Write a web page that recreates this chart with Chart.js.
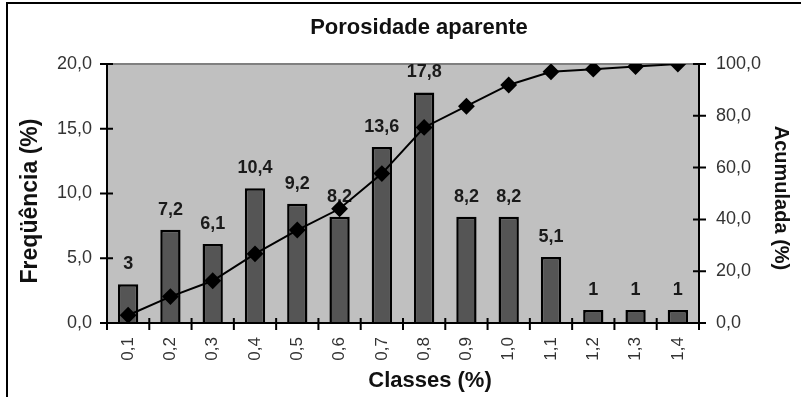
<!DOCTYPE html>
<html>
<head>
<meta charset="utf-8">
<script src="https://cdn.jsdelivr.net/npm/chart.js@4/dist/chart.umd.min.js"></script>
<style>
  html, body { margin: 0; padding: 0; background: #fff; }
  #c { display: block; }
</style>
</head>
<body>
<canvas id="c" width="801" height="397"></canvas>
<script>
// Porosity classes and their frequency / cumulative percentages
const classes = ['0,1', '0,2', '0,3', '0,4', '0,5', '0,6', '0,7', '0,8', '0,9', '1,0', '1,1', '1,2', '1,3', '1,4'];
const frequency = [3, 7.2, 6.1, 10.4, 9.2, 8.2, 13.6, 17.8, 8.2, 8.2, 5.1, 1, 1, 1];
const cumulative = [3, 10.2, 16.3, 26.7, 35.9, 44.1, 57.7, 75.5, 83.7, 91.9, 97, 98, 99, 100];
const freqTicks = [0, 5, 10, 15, 20];
const cumTicks = [0, 20, 40, 60, 80, 100];

const FONT = '"Liberation Sans", Arial, sans-serif';
const fmt1 = v => v.toFixed(1).replace('.', ',');
const fmtLabel = v => Number.isInteger(v) ? String(v) : fmt1(v);

const decorations = {
  id: 'decorations',
  beforeDraw(chart) {
    const { ctx, chartArea: a } = chart;
    ctx.save();
    ctx.fillStyle = '#fff';
    ctx.fillRect(0, 0, chart.width, chart.height);
    // outer frame (top and left edges)
    ctx.strokeStyle = '#000';
    ctx.lineWidth = 2;
    ctx.beginPath();
    ctx.moveTo(801, 3);
    ctx.lineTo(7, 3);
    ctx.lineTo(7, 397);
    ctx.stroke();
    // plot area
    ctx.fillStyle = '#c0c0c0';
    ctx.fillRect(a.left, a.top, a.right - a.left, a.bottom - a.top);
    ctx.strokeStyle = '#808080';
    ctx.lineWidth = 2;
    ctx.beginPath();
    ctx.moveTo(a.left, a.top);
    ctx.lineTo(a.right, a.top);
    ctx.stroke();
    ctx.restore();
  },
  afterDatasetDraw(chart, args) {
    if (args.index !== 0) return;
    const { ctx } = chart;
    const meta = chart.getDatasetMeta(0);
    ctx.save();
    ctx.fillStyle = '#1a1a1a';
    ctx.font = 'bold 18px ' + FONT;
    ctx.textAlign = 'center';
    ctx.textBaseline = 'middle';
    meta.data.forEach((bar, i) => {
      ctx.fillText(fmtLabel(frequency[i]), bar.x, bar.y - 20);
    });
    ctx.restore();
  },
  afterDraw(chart) {
    const { ctx, chartArea: a, scales } = chart;
    ctx.save();
    ctx.strokeStyle = '#000';
    ctx.lineWidth = 2;
    // axis lines
    ctx.beginPath();
    ctx.moveTo(a.left, a.top);
    ctx.lineTo(a.left, a.bottom);
    ctx.moveTo(a.right, a.top);
    ctx.lineTo(a.right, a.bottom);
    ctx.moveTo(a.left - 7, a.bottom);
    ctx.lineTo(a.right + 7, a.bottom);
    ctx.stroke();
    // cross tick marks
    ctx.beginPath();
    freqTicks.forEach(v => {
      const y = scales.y.getPixelForValue(v);
      ctx.moveTo(a.left - 7, y);
      ctx.lineTo(a.left + 6, y);
    });
    cumTicks.forEach(v => {
      const y = scales.y1.getPixelForValue(v);
      ctx.moveTo(a.right - 6, y);
      ctx.lineTo(a.right + 7, y);
    });
    const step = (a.right - a.left) / classes.length;
    for (let i = 0; i <= classes.length; i++) {
      const x = a.left + i * step;
      ctx.moveTo(x, a.bottom - 5);
      ctx.lineTo(x, a.bottom + 7);
    }
    ctx.stroke();

    // titles
    ctx.fillStyle = '#111';
    ctx.textAlign = 'center';
    ctx.textBaseline = 'middle';
    ctx.font = 'bold 22px ' + FONT;
    ctx.fillText('Porosidade aparente', 419, 28);
    ctx.fillText('Classes (%)', 430, 381);
    ctx.save();
    ctx.font = 'bold 23px ' + FONT;
    ctx.translate(31, 201);
    ctx.rotate(-Math.PI / 2);
    ctx.fillText('Freqüência (%)', 0, 0);
    ctx.restore();
    ctx.save();
    ctx.font = 'bold 20px ' + FONT;
    ctx.translate(781, 198);
    ctx.rotate(Math.PI / 2);
    ctx.fillText('Acumulada (%)', 0, 0);
    ctx.restore();
    ctx.restore();
  }
};

new Chart(document.getElementById('c'), {
  type: 'bar',
  data: {
    labels: classes,
    datasets: [
      {
        type: 'bar',
        data: frequency,
        yAxisID: 'y',
        backgroundColor: '#555555',
        borderColor: '#000',
        borderWidth: 2.5,
        barPercentage: 0.48,
        categoryPercentage: 1,
        order: 2
      },
      {
        type: 'line',
        data: cumulative,
        yAxisID: 'y1',
        borderColor: '#000',
        borderWidth: 2,
        pointStyle: 'rectRot',
        pointRadius: 7,
        pointBackgroundColor: '#000',
        pointBorderColor: '#000',
        tension: 0,
        order: 1
      }
    ]
  },
  options: {
    responsive: false,
    animation: false,
    devicePixelRatio: 1,
    layout: { padding: { top: 64, left: 0, right: 0, bottom: 0 } },
    plugins: { legend: { display: false }, tooltip: { enabled: false } },
    scales: {
      x: {
        grid: { display: false, drawTicks: false },
        border: { display: false },
        ticks: {
          color: '#333',
          font: { family: FONT, size: 17 },
          maxRotation: 90,
          minRotation: 90,
          padding: 14,
          autoSkip: false
        },
        afterFit: s => { s.height = 74; }
      },
      y: {
        position: 'left',
        min: 0,
        max: 20,
        grid: { display: false, drawTicks: false },
        border: { display: false },
        ticks: {
          stepSize: 5,
          color: '#333',
          font: { family: FONT, size: 18 },
          padding: 15,
          callback: v => fmt1(v)
        },
        afterFit: s => { s.width = 107; }
      },
      y1: {
        position: 'right',
        min: 0,
        max: 100,
        grid: { display: false, drawTicks: false },
        border: { display: false },
        ticks: {
          stepSize: 20,
          color: '#333',
          font: { family: FONT, size: 18 },
          padding: 17,
          callback: v => fmt1(v)
        },
        afterFit: s => { s.width = 102; }
      }
    }
  },
  plugins: [decorations]
});
</script>
</body>
</html>
